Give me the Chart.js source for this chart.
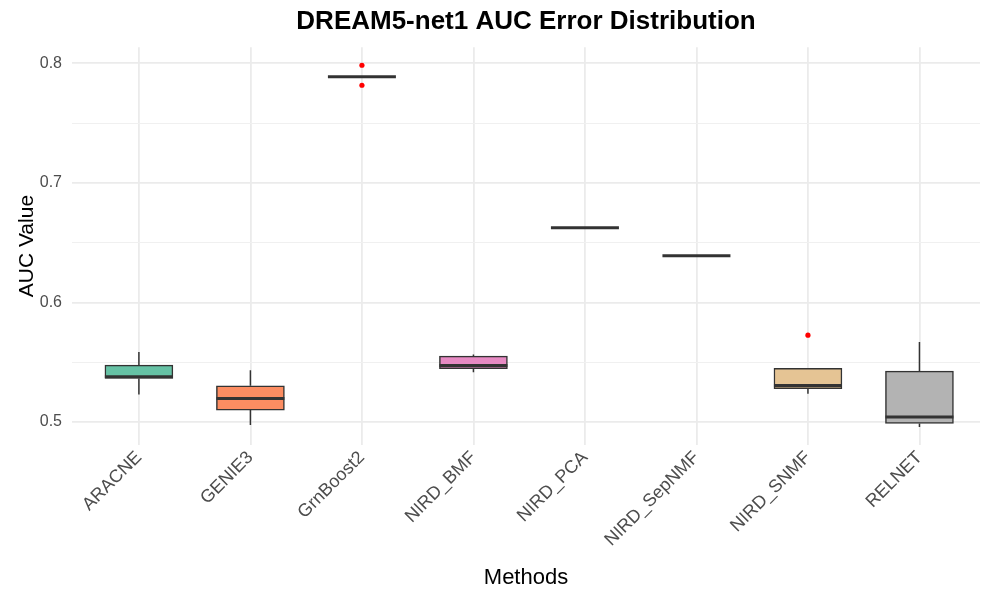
<!DOCTYPE html>
<html>
<head>
<meta charset="utf-8">
<script src="https://cdn.jsdelivr.net/npm/chart.js@4.4.0/dist/chart.umd.min.js"></script>
<style>
  body { margin: 0; background: #fff; }
  #wrap { width: 984px; height: 592px; }
</style>
</head>
<body>
<div id="wrap"><canvas id="chart" width="984" height="592"></canvas></div>
<script>
// Box plot data
const methods = ['ARACNE', 'GENIE3', 'GrnBoost2', 'NIRD_BMF', 'NIRD_PCA', 'NIRD_SepNMF', 'NIRD_SNMF', 'RELNET'];
const whiskerLow = [0.5230, 0.4975, 0.7886, 0.5417, 0.6625, 0.6390, 0.5236, 0.4958];
const q1 = [0.5365, 0.5100, 0.7886, 0.5447, 0.6625, 0.6390, 0.5278, 0.4988];
const medians = [0.5378, 0.5197, 0.7886, 0.5473, 0.6625, 0.6390, 0.5306, 0.5042];
const q3 = [0.5476, 0.5303, 0.7886, 0.5551, 0.6625, 0.6390, 0.5450, 0.5425];
const whiskerHigh = [0.5586, 0.5434, 0.7886, 0.5564, 0.6625, 0.6390, 0.5450, 0.5670];
const outlierMethod = [2, 2, 6];
const outlierValue = [0.7983, 0.7816, 0.5726];
const boxColors = ['#66C2A5', '#FC8D62', '#8DA0CB', '#E78AC3', '#A6D854', '#FFD92F', '#E5C494', '#B3B3B3'];
const yTicks = [0.5, 0.55, 0.6, 0.65, 0.7, 0.75, 0.8];

const ink = '#333333';

// Whiskers (under the boxes) and medians (over them)
const boxParts = {
  id: 'boxParts',
  beforeDatasetsDraw(chart) {
    const { ctx, scales: { x, y } } = chart;
    ctx.save();
    ctx.strokeStyle = ink;
    ctx.lineWidth = 1.5;
    methods.forEach((m, i) => {
      const px = x.getPixelForValue(i);
      ctx.beginPath();
      ctx.moveTo(px, y.getPixelForValue(whiskerLow[i]));
      ctx.lineTo(px, y.getPixelForValue(q1[i]));
      ctx.moveTo(px, y.getPixelForValue(q3[i]));
      ctx.lineTo(px, y.getPixelForValue(whiskerHigh[i]));
      ctx.stroke();
    });
    ctx.restore();
  },
  afterDatasetsDraw(chart) {
    const { ctx, scales: { y } } = chart;
    const meta = chart.getDatasetMeta(0);
    ctx.save();
    ctx.strokeStyle = ink;
    ctx.lineWidth = 3;
    meta.data.forEach((bar, i) => {
      const py = y.getPixelForValue(medians[i]);
      ctx.beginPath();
      ctx.moveTo(bar.x - bar.width / 2, py);
      ctx.lineTo(bar.x + bar.width / 2, py);
      ctx.stroke();
    });
    ctx.restore();
  }
};

const ctx = document.getElementById('chart').getContext('2d');
new Chart(ctx, {
  type: 'bar',
  data: {
    datasets: [
      {
        type: 'bar',
        data: methods.map((m, i) => ({ x: i, y: [q1[i], q3[i]] })),
        backgroundColor: boxColors,
        borderColor: ink,
        borderWidth: 1.5,
        borderSkipped: false,
        barThickness: 68,
        order: 2
      },
      {
        type: 'scatter',
        data: outlierValue.map((v, i) => ({ x: outlierMethod[i], y: v })),
        backgroundColor: '#FF0000',
        borderWidth: 0,
        pointRadius: 2.6,
        order: 1
      }
    ]
  },
  options: {
    responsive: false,
    devicePixelRatio: 1,
    animation: false,
    layout: { padding: 0 },
    plugins: {
      legend: { display: false },
      tooltip: { enabled: false },
      title: {
        display: true,
        fullSize: false,
        text: 'DREAM5-net1 AUC Error Distribution',
        color: '#000',
        font: { family: 'Liberation Sans', size: 26, weight: 'bold' },
        padding: { top: 6, bottom: 10 }
      }
    },
    scales: {
      x: {
        type: 'linear',
        min: -0.6,
        max: 7.543,
        offset: false,
        afterBuildTicks: (scale) => { scale.ticks = methods.map((m, i) => ({ value: i })); },
        afterFit: (scale) => { scale.height = 147; },
        border: { display: false },
        grid: { offset: false, drawTicks: false, color: '#EBEBEB', lineWidth: 1.8 },
        ticks: {
          autoSkip: false,
          minRotation: 45,
          maxRotation: 45,
          padding: 2,
          color: '#4D4D4D',
          font: { family: 'Liberation Sans', size: 18 },
          callback: (v) => methods[v]
        },
        title: {
          display: true,
          text: 'Methods',
          color: '#000',
          font: { family: 'Liberation Sans', size: 22 },
          padding: { top: 0, bottom: 1 }
        }
      },
      y: {
        min: 0.4808,
        max: 0.8134,
        afterBuildTicks: (scale) => { scale.ticks = yTicks.map(v => ({ value: v })); },
        afterFit: (scale) => { scale.width = 72; },
        border: { display: false },
        grid: {
          drawTicks: false,
          color: (c) => (Math.round(c.tick.value * 100) % 10 === 0 ? '#EBEBEB' : '#F0F0F0'),
          lineWidth: (c) => (Math.round(c.tick.value * 100) % 10 === 0 ? 1.8 : 1)
        },
        ticks: {
          padding: 10,
          color: '#4D4D4D',
          font: { family: 'Liberation Sans', size: 16 },
          callback: (v) => (Math.round(v * 100) % 10 === 0 ? v.toFixed(1) : '')
        },
        title: {
          display: true,
          text: 'AUC Value',
          color: '#000',
          font: { family: 'Liberation Sans', size: 21 },
          padding: { top: 15, bottom: 0 }
        }
      }
    }
  },
  plugins: [boxParts]
});
</script>
</body>
</html>
